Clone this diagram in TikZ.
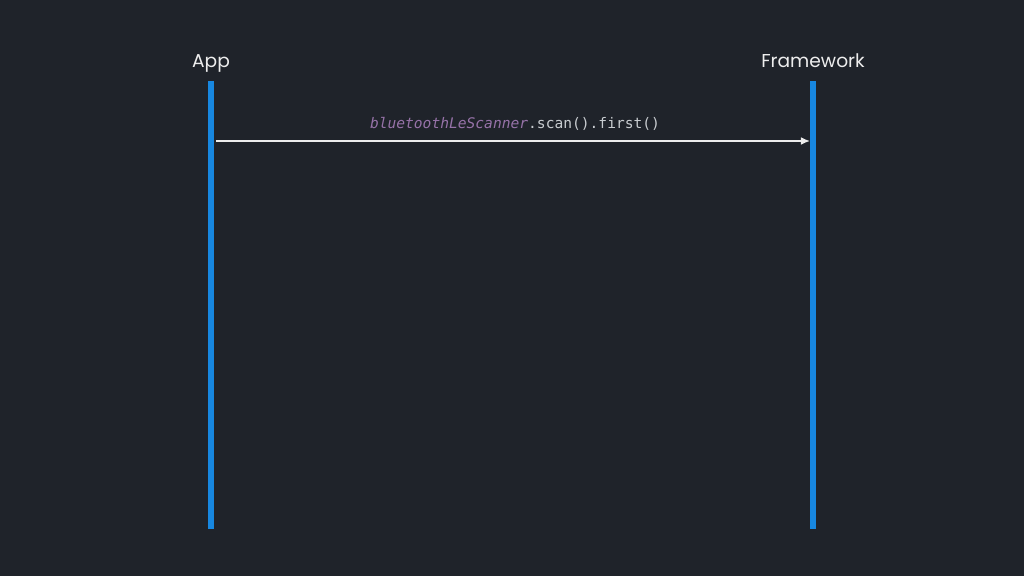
\documentclass[tikz,border=0pt]{standalone}
\usepackage{fontspec}
\setmainfont{Poppins}
\setmonofont{DejaVu Sans Mono}
\usetikzlibrary{arrows.meta}
\definecolor{bg}{HTML}{1F232A}
\definecolor{lifeline}{HTML}{1787E0}
\definecolor{txt}{HTML}{EDEDED}
\definecolor{kw}{HTML}{9672A8}
\definecolor{code}{HTML}{C8CCD0}
\begin{document}
\begin{tikzpicture}[x=0.01cm,y=-0.01cm,
  actor/.style={text=txt,font=\fontsize{5.3pt}{6pt}\selectfont,inner sep=0pt,anchor=base},
  life/.style={draw=lifeline,line width=1.45pt},
  msg/.style={draw=txt,line width=0.4pt,-{Latex[length=2.6pt,width=2.2pt]}},
  codelbl/.style={font=\ttfamily\fontsize{4.15pt}{5pt}\selectfont,inner sep=0pt,anchor=base}]
\fill[bg] (0,0) rectangle (1024,576);
\useasboundingbox (0,0) rectangle (1024,576);
\node[actor] (app) at (211,68) {App};
\node[actor] (fw) at (813,68) {Framework};
\coordinate (a1) at (211,81);
\coordinate (a2) at (211,529);
\coordinate (f1) at (813,81);
\coordinate (f2) at (813,529);
\draw[life] (a1) -- (a2);
\draw[life] (f1) -- (f2);
\coordinate (ms) at (216,141);
\coordinate (me) at (810,141);
\draw[msg] (ms) -- (me);
\node[codelbl] (lbl) at (515,129) {\textcolor{kw}{\itshape bluetoothLeScanner}\textcolor{code}{.scan().first()}};
\end{tikzpicture}
\end{document}
